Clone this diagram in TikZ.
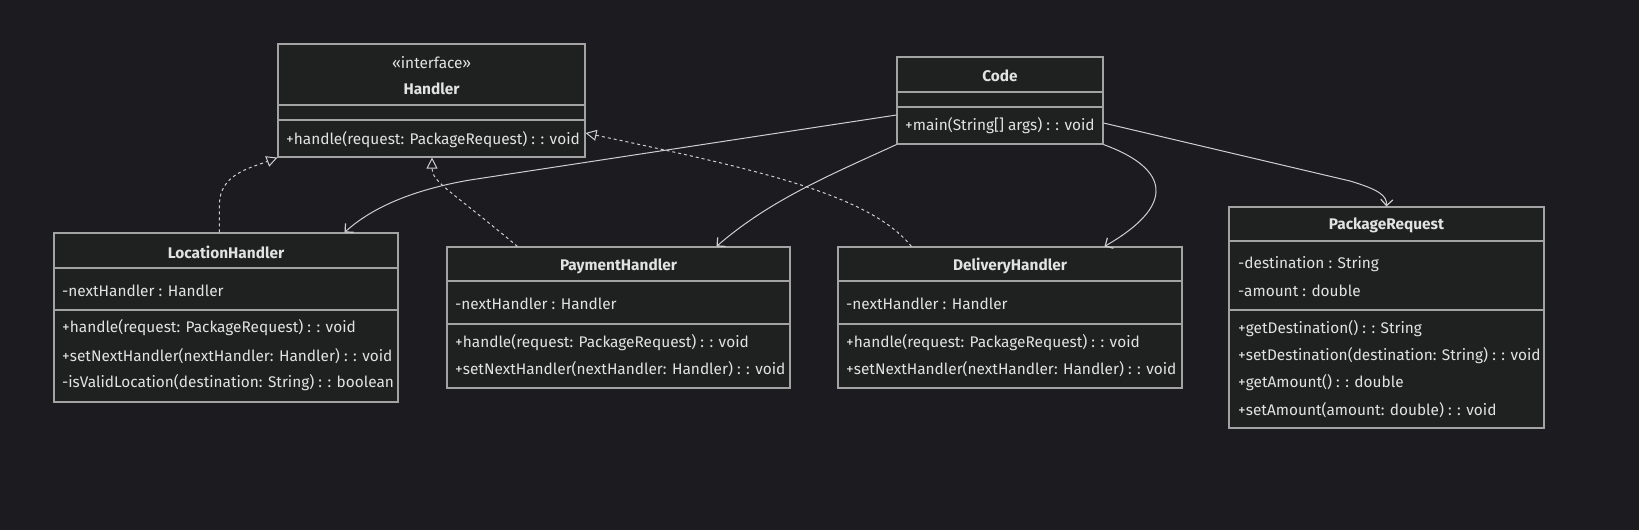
\documentclass[tikz,border=0pt]{standalone}
\usepackage{fontspec}
\setmainfont{Fira Sans}
\usetikzlibrary{arrows.meta,calc}
\definecolor{bg}{HTML}{1C1B20}
\definecolor{boxfill}{HTML}{1F2020}
\definecolor{boxline}{HTML}{A3A3A3}
\definecolor{txt}{HTML}{E2E2E2}
\definecolor{edge}{HTML}{CFCFCF}
\tikzset{
  classbox/.style={draw=boxline, fill=boxfill, line width=1.1pt, inner sep=0pt},
  divline/.style={draw=boxline, line width=1.1pt},
  mem/.style={anchor=west, inner sep=0pt, text=txt, font=\fontsize{15.4}{17}\selectfont},
  ttl/.style={inner sep=0pt, text=txt, font=\fontsize{15.4}{17}\selectfont\bfseries},
  stereo/.style={inner sep=0pt, text=txt, font=\fontsize{15.4}{17}\selectfont},
  realize/.style={draw=edge, line width=1pt, dash pattern=on 3pt off 3pt, -{Triangle[open, length=11pt, width=11pt, line width=1pt]}},
  assoc/.style={draw=edge, line width=1pt, -{Straight Barb[length=6pt, width=12pt, line width=1.2pt]}}
}
\begin{document}
\begin{tikzpicture}[x=1pt,y=-1pt]
\fill[bg] (0,0) rectangle (1639,530);
\useasboundingbox (0,0) rectangle (1639,530);

% Handler
\node[classbox, minimum width=307pt, minimum height=113pt] (handler) at (431.5,100.5) {};
\draw[divline] (handler.west |- 0,105) -- (handler.east |- 0,105);
\draw[divline] (handler.west |- 0,120) -- (handler.east |- 0,120);
\node[stereo] (handlerS) at (431.5,63) {«interface»};
\node[ttl] (handlerT) at (431.5,89) {Handler};
\node[mem] (handlerM1) at (286,140) {+handle(request: PackageRequest) : : void};

% Code
\node[classbox, minimum width=206pt, minimum height=87pt] (code) at (1000,100.5) {};
\draw[divline] (code.west |- 0,92) -- (code.east |- 0,92);
\draw[divline] (code.west |- 0,107) -- (code.east |- 0,107);
\node[ttl] (codeT) at (1000,76) {Code};
\node[mem] (codeM1) at (905,126) {+main(String[] args) : : void};

% LocationHandler
\node[classbox, minimum width=344pt, minimum height=169pt] (loc) at (226,317.5) {};
\draw[divline] (loc.west |- 0,268) -- (loc.east |- 0,268);
\draw[divline] (loc.west |- 0,310) -- (loc.east |- 0,310);
\node[ttl] (locT) at (226,252) {LocationHandler};
\node[mem] (locA1) at (62,291) {-nextHandler : Handler};
\node[mem] (locM1) at (62,328) {+handle(request: PackageRequest) : : void};
\node[mem] (locM2) at (62,356) {+setNextHandler(nextHandler: Handler) : : void};
\node[mem] (locM3) at (62,383) {-isValidLocation(destination: String) : : boolean};

% PaymentHandler
\node[classbox, minimum width=343pt, minimum height=141pt] (pay) at (618.5,317.5) {};
\draw[divline] (pay.west |- 0,281) -- (pay.east |- 0,281);
\draw[divline] (pay.west |- 0,324) -- (pay.east |- 0,324);
\node[ttl] (payT) at (618.5,266) {PaymentHandler};
\node[mem] (payA1) at (455,304) {-nextHandler : Handler};
\node[mem] (payM1) at (455,343) {+handle(request: PackageRequest) : : void};
\node[mem] (payM2) at (455,369) {+setNextHandler(nextHandler: Handler) : : void};

% DeliveryHandler
\node[classbox, minimum width=344pt, minimum height=141pt] (del) at (1010,317.5) {};
\draw[divline] (del.west |- 0,281) -- (del.east |- 0,281);
\draw[divline] (del.west |- 0,324) -- (del.east |- 0,324);
\node[ttl] (delT) at (1010,266) {DeliveryHandler};
\node[mem] (delA1) at (846,304) {-nextHandler : Handler};
\node[mem] (delM1) at (846,343) {+handle(request: PackageRequest) : : void};
\node[mem] (delM2) at (846,369) {+setNextHandler(nextHandler: Handler) : : void};

% PackageRequest
\node[classbox, minimum width=315pt, minimum height=221pt] (req) at (1386.5,317.5) {};
\draw[divline] (req.west |- 0,241) -- (req.east |- 0,241);
\draw[divline] (req.west |- 0,310) -- (req.east |- 0,310);
\node[ttl] (reqT) at (1386.5,225) {PackageRequest};
\node[mem] (reqA1) at (1238,264) {-destination : String};
\node[mem] (reqA2) at (1238,291) {-amount : double};
\node[mem] (reqM1) at (1238,329) {+getDestination() : : String};
\node[mem] (reqM2) at (1238,356) {+setDestination(destination: String) : : void};
\node[mem] (reqM3) at (1238,383) {+getAmount() : : double};
\node[mem] (reqM4) at (1238,410) {+setAmount(amount: double) : : void};

% realizations
\draw[realize] ($(loc.north west)+(166,0)$) -- ++(0,-28)
  .. controls +(0,-30) and (250,168) .. (handler.south west);
\draw[realize] ($(pay.north west)+(71,0)$)
  .. controls (450,190) and (432,182) .. (handler.south -| 432,0);
\draw[realize] ($(del.north west)+(74,0)$)
  .. controls (870,195) and (760,170) .. (handler.east |- 0,133);

% associations
\draw[assoc] (code.west |- 0,115) -- (470,180)
  .. controls (400,192) and (365,214) .. ($(loc.north west)+(291,0)$);
\draw[assoc] (code.south west)
  .. controls (830,175) and (770,200) .. ($(pay.north west)+(270,0)$);
\draw[assoc] (code.south east)
  .. controls (1160,165) and (1185,200) .. ($(del.north west)+(267,0)$);
\draw[assoc] (code.east |- 0,123) -- (1350,181)
  .. controls (1380,190) and (1387,196) .. ($(req.north west)+(158,0)$);
\end{tikzpicture}
\end{document}
